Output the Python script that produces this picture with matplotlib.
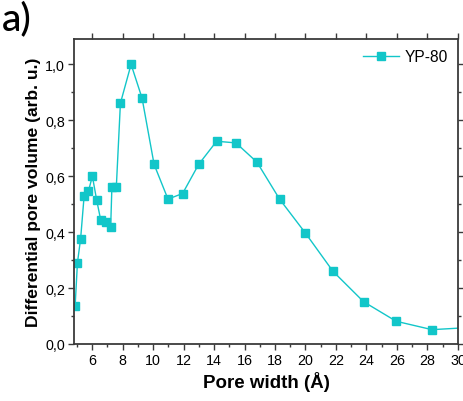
import matplotlib.pyplot as plt
from matplotlib.ticker import FuncFormatter, MultipleLocator

# pore size distribution, YP-80
pore_width = [4.89, 5.04, 5.25, 5.48, 5.76, 6.02, 6.30, 6.56, 6.89, 7.22, 7.30, 7.59,
              7.86, 8.56, 9.28, 10.07, 10.98, 11.94, 12.99, 14.17, 15.44, 16.82,
              18.30, 19.99, 21.80, 23.81, 25.95, 28.30, 31.20]
pore_volume = [0.137, 0.290, 0.377, 0.530, 0.546, 0.600, 0.515, 0.445, 0.436, 0.417,
               0.560, 0.560, 0.861, 1.000, 0.879, 0.642, 0.518, 0.538, 0.642, 0.725,
               0.719, 0.650, 0.518, 0.397, 0.260, 0.151, 0.081, 0.051, 0.060]
sample_name = 'YP-80'

color = '#12c6c9'
spine_col = '#3a3a3a'

plt.rcParams['font.family'] = ['Liberation Sans', 'DejaVu Sans']

fig = plt.figure(figsize=(4.63, 4.02), dpi=100)
ax = fig.add_axes([0.160, 0.142, 0.829, 0.758])

ax.plot(pore_width, pore_volume, '-s', color=color, lw=1.0, ms=6.3,
        markeredgecolor=color, label=sample_name)

ax.set_xlim(4.82, 30)
ax.set_ylim(0, 1.09)
ax.xaxis.set_major_locator(MultipleLocator(2))
ax.xaxis.set_minor_locator(MultipleLocator(1))
ax.yaxis.set_major_locator(MultipleLocator(0.2))
ax.yaxis.set_minor_locator(MultipleLocator(0.1))
ax.yaxis.set_major_formatter(FuncFormatter(lambda v, p: f'{v:.1f}'.replace('.', ',')))

for s in ax.spines.values():
    s.set_color(spine_col)
    s.set_linewidth(1.3)

ax.tick_params(which='both', direction='out', color=spine_col, width=1.0,
               labelsize=10.3, top=True, right=True, pad=2)
ax.tick_params(which='major', length=4.5)
ax.tick_params(which='minor', length=2.5, top=False)

ax.set_xlabel('Pore width (Å)', fontsize=13.5, fontweight='bold', labelpad=3)
ax.set_ylabel('Differential pore volume (arb. u.)', fontsize=12.6, fontweight='bold',
              labelpad=3)

ax.legend(loc='upper right', frameon=False, fontsize=11.2, handlelength=2.3,
          borderaxespad=0.25, handletextpad=0.35)

fig.text(0.004, 0.998, 'a)', fontsize=28, family='Lato', fontweight='medium',
         va='top', ha='left')

fig.savefig('out.png', dpi=100)
